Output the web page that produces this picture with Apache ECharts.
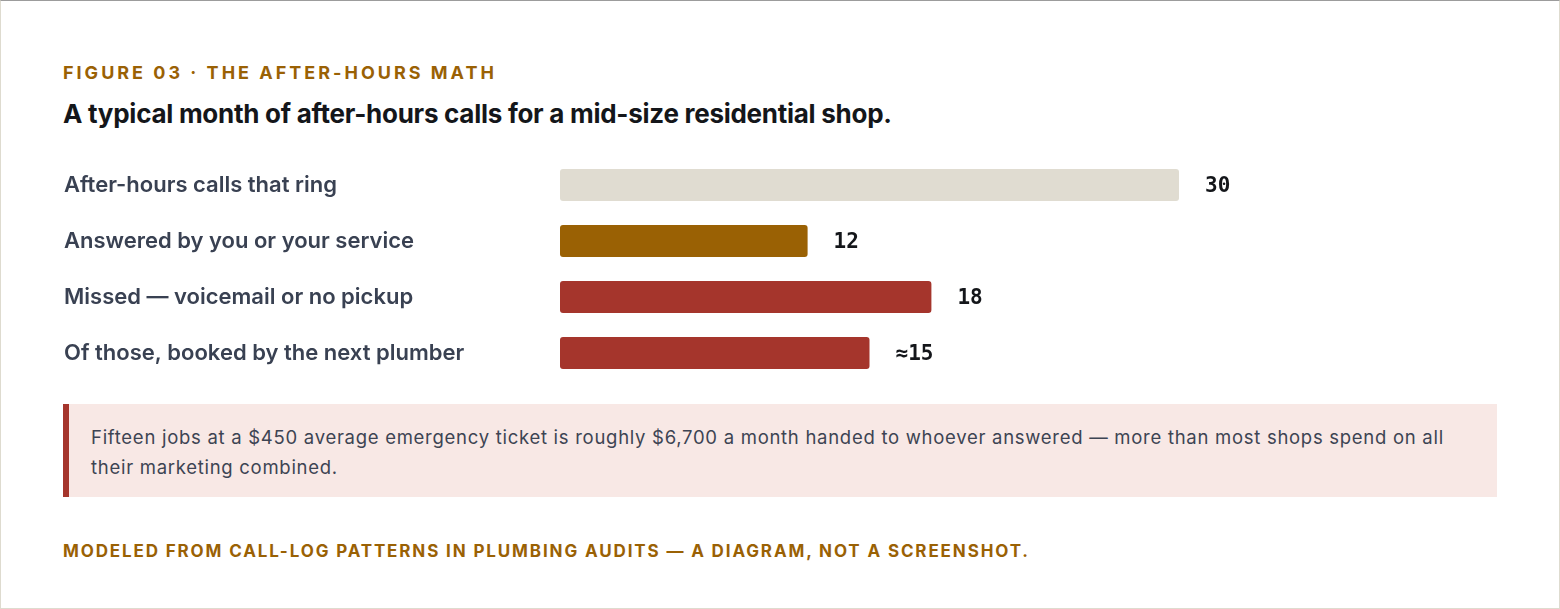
<!DOCTYPE html>
<html>
<head>
<meta charset="utf-8">
<script src="https://cdn.jsdelivr.net/npm/echarts@6/dist/echarts.min.js"></script>
<style>
  html, body { margin: 0; padding: 0; background: #fff; }
  .card {
    position: relative; width: 1560px; height: 609px; box-sizing: border-box;
    border: 1px solid #dedbcf; border-top-color: #9c9c9c; background: #fff;
    font-family: Inter, "Noto Sans", sans-serif;
  }
  .kicker {
    position: absolute; left: 62px; top: 61px; margin: 0; line-height: 22px;
    font-size: 18px; font-weight: 700; letter-spacing: 3px; color: #9a6104;
  }
  .headline {
    position: absolute; left: 62px; top: 97px; margin: 0; line-height: 32px;
    font-size: 26px; font-weight: 700; color: #14161a; letter-spacing: -0.27px;
  }
  #bars { position: absolute; left: 0; top: 156px; width: 1560px; height: 224px; }
  .note {
    position: absolute; left: 62px; top: 403px; width: 1434px; height: 93px; box-sizing: border-box;
    background: #f8e8e5; border-left: 6px solid #a5352c;
    padding: 18px 40px 0 22px; font-size: 18.5px; letter-spacing: 0.72px; line-height: 30px; color: #3d4453;
  }
  .foot {
    position: absolute; left: 62px; top: 539px; margin: 0; line-height: 22px;
    font-size: 17px; font-weight: 700; letter-spacing: 1.87px; color: #9a6104;
  }
</style>
</head>
<body>
<div class="card">
  <p class="kicker">FIGURE 03 · THE AFTER-HOURS MATH</p>
  <p class="headline">A typical month of after-hours calls for a mid-size residential shop.</p>
  <div id="bars"></div>
  <div class="note">Fifteen jobs at a $450 average emergency ticket is roughly $6,700 a month handed to whoever answered — more than most shops spend on all their marketing combined.</div>
  <p class="foot">MODELED FROM CALL-LOG PATTERNS IN PLUMBING AUDITS — A DIAGRAM, NOT A SCREENSHOT.</p>
</div>
<script>
  // monthly after-hours call counts
  var categories = ['After-hours calls that ring', 'Answered by you or your service', 'Missed — voicemail or no pickup', 'Of those, booked by the next plumber'];
  var values = [30, 12, 18, 15];
  var valueLabels = ['30', '12', '18', '≈15'];
  var barColors = ['#e0dcd1', '#9a6104', '#a5352c', '#a5352c'];

  var chart = echarts.init(document.getElementById('bars'));
  chart.setOption({
    animation: false,
    grid: { left: 559, right: 382, top: 0, bottom: 0 },
    xAxis: {
      type: 'value', min: 0, max: 30,
      show: false
    },
    yAxis: {
      type: 'category',
      inverse: true,
      data: categories,
      axisLine: { show: false },
      axisTick: { show: false },
      axisLabel: {
        align: 'left',
        margin: 496,
        fontFamily: 'Inter',
        fontSize: 22,
        fontWeight: 600,
        color: '#394152'
      }
    },
    series: [{
      type: 'bar',
      barWidth: 32,
      data: values.map(function (v, i) {
        return { value: v, itemStyle: { color: barColors[i], borderRadius: 3 } };
      }),
      label: {
        show: true,
        position: 'right',
        distance: 26,
        offset: [0, 1.5],
        fontFamily: 'DejaVu Sans Mono',
        fontWeight: 'bold',
        fontSize: 21,
        color: '#14161a',
        formatter: function (p) { return valueLabels[p.dataIndex]; }
      }
    }]
  });
</script>
</body>
</html>
